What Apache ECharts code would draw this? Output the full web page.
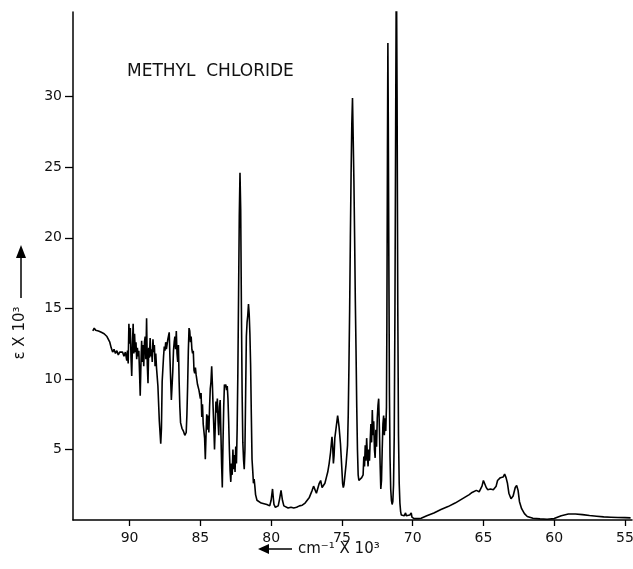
<!DOCTYPE html>
<html>
<head>
<meta charset="utf-8">
<script src="https://cdn.jsdelivr.net/npm/echarts@6.0.0/dist/echarts.min.js"></script>
<style>
  html, body { margin: 0; padding: 0; background: #fff; }
  #chart { width: 633px; height: 569px; }
</style>
</head>
<body>
<div id="chart"></div>
<script>
// tick labels
const xTicks = [90, 85, 80, 75, 70, 65, 60, 55]
const yTicks = [5, 10, 15, 20, 25, 30]
const chartTitle = 'METHYL  CHLORIDE'

// absorption trace, [wavenumber x 10^-3 cm^-1, epsilon x 10^-3]
const spectrum = [
  [92.6, 13.4], [92.5, 13.6], [92.4, 13.45], [92.3, 13.55], [92.2, 13.4], [92.1, 13.5], [92.0, 13.3],
  [91.9, 13.4], [91.8, 13.2], [91.7, 13.1], [91.6, 13.0], [91.5, 12.8], [91.4, 12.6], [91.3, 12.2],
  [91.2, 11.9], [91.1, 12.1], [91.0, 11.8], [90.9, 12.0], [90.8, 11.7], [90.7, 11.9], [90.6, 11.8],
  [90.5, 11.9], [90.4, 11.6], [90.3, 11.9], [90.2, 11.3], [90.15, 12.0], [90.1, 11.1],
  [90.05, 13.9], [90.0, 12.5], [89.95, 13.6], [89.9, 11.5], [89.85, 10.2], [89.8, 12.4], [89.75, 13.9],
  [89.7, 11.8], [89.65, 13.2], [89.6, 11.9], [89.55, 12.6], [89.5, 11.4], [89.45, 12.2], [89.4, 11.6],
  [89.35, 12.0], [89.3, 10.5], [89.25, 8.8], [89.2, 11.0], [89.15, 12.7], [89.1, 11.2], [89.05, 12.4],
  [89.0, 10.9], [88.95, 12.6], [88.9, 13.0], [88.85, 11.4], [88.8, 14.3], [88.75, 11.0], [88.7, 9.7],
  [88.65, 12.2], [88.6, 11.5], [88.55, 12.9], [88.5, 11.6], [88.45, 12.1], [88.4, 11.2], [88.35, 12.8],
  [88.3, 11.9], [88.25, 12.4], [88.2, 10.9], [88.15, 11.8], [88.1, 10.8], [88.0, 9.5], [87.9, 7.0],
  [87.8, 5.4], [87.75, 6.5], [87.7, 9.8], [87.6, 11.6], [87.55, 12.3], [87.5, 12.0], [87.45, 12.6],
  [87.4, 12.1], [87.3, 12.8], [87.2, 13.3], [87.15, 11.5], [87.1, 10.0], [87.05, 8.5], [86.95, 10.5],
  [86.9, 12.0], [86.85, 12.6], [86.8, 13.0], [86.75, 12.1], [86.7, 13.4], [86.65, 11.8], [86.6, 11.2],
  [86.55, 12.4], [86.5, 9.8], [86.45, 8.0], [86.4, 6.9], [86.3, 6.5], [86.2, 6.3], [86.1, 6.0],
  [86.0, 6.2], [85.95, 7.5], [85.9, 9.5], [85.85, 12.0], [85.8, 13.6], [85.75, 13.4], [85.7, 12.6],
  [85.65, 13.0], [85.6, 12.1], [85.55, 11.8], [85.5, 12.0], [85.45, 10.6], [85.4, 10.4], [85.35, 10.8],
  [85.3, 10.3], [85.2, 9.6], [85.1, 9.2], [85.0, 8.6], [84.95, 9.0], [84.9, 7.3], [84.85, 8.2],
  [84.8, 6.8], [84.7, 5.8], [84.65, 4.3], [84.6, 6.0], [84.55, 7.5], [84.5, 6.4], [84.45, 7.4],
  [84.4, 6.2], [84.35, 8.0], [84.3, 9.3], [84.25, 9.8], [84.2, 10.9], [84.15, 9.6], [84.1, 8.0],
  [84.05, 6.6], [84.0, 5.0], [83.95, 6.6], [83.9, 8.4], [83.85, 7.6], [83.8, 8.6], [83.75, 7.0],
  [83.7, 6.0], [83.65, 8.0], [83.6, 8.5], [83.55, 6.2], [83.5, 4.0], [83.45, 2.3], [83.4, 5.5],
  [83.35, 8.0], [83.3, 9.6], [83.25, 9.4], [83.2, 9.6], [83.15, 9.2], [83.1, 9.5], [83.05, 8.6],
  [83.0, 7.0], [82.95, 5.0], [82.9, 3.5], [82.85, 2.7], [82.8, 4.0], [82.75, 3.2], [82.7, 5.0],
  [82.65, 3.6], [82.6, 4.6], [82.55, 3.4], [82.5, 5.2], [82.45, 4.0], [82.4, 6.5], [82.35, 10.5],
  [82.3, 16.0], [82.25, 21.5], [82.2, 24.6], [82.15, 22.0], [82.1, 15.0], [82.05, 9.0], [82.0, 5.5],
  [81.95, 4.3], [81.9, 3.6], [81.85, 5.0], [81.8, 9.0], [81.75, 13.0], [81.7, 14.0], [81.65, 14.5],
  [81.6, 15.3], [81.55, 14.6], [81.5, 13.2], [81.45, 11.0], [81.4, 7.5], [81.35, 4.3], [81.3, 3.5],
  [81.25, 2.6], [81.2, 2.9], [81.15, 2.4], [81.1, 1.8], [81.0, 1.4], [80.9, 1.3], [80.7, 1.2],
  [80.5, 1.15], [80.3, 1.1], [80.1, 1.0], [80.0, 1.4], [79.9, 2.2], [79.85, 1.6], [79.8, 1.1],
  [79.7, 0.9], [79.6, 0.8], [79.5, 1.0], [79.4, 1.5], [79.3, 2.1], [79.2, 1.4], [79.1, 1.0],
  [79.0, 0.9], [78.8, 0.85], [78.6, 0.9], [78.4, 0.85], [78.2, 0.9], [78.0, 1.0], [77.8, 1.05],
  [77.6, 1.2], [77.5, 1.2], [77.3, 1.6], [77.1, 2.1], [77.0, 2.4], [76.9, 2.3], [76.8, 1.9],
  [76.7, 2.0], [76.6, 2.6], [76.5, 2.8], [76.4, 2.3], [76.3, 2.3], [76.2, 2.6], [76.1, 3.0],
  [76.0, 3.4], [75.9, 4.0], [75.8, 4.8], [75.7, 5.9], [75.65, 5.2], [75.6, 4.0], [75.55, 4.6],
  [75.5, 5.8], [75.4, 6.6], [75.3, 7.4], [75.25, 7.0], [75.2, 6.6], [75.1, 5.4], [75.0, 3.6],
  [74.95, 2.6], [74.9, 2.3], [74.85, 2.5], [74.8, 3.0], [74.7, 4.0], [74.6, 5.3], [74.55, 7.5],
  [74.5, 11.0], [74.45, 15.0], [74.4, 20.0], [74.35, 24.5], [74.3, 28.0], [74.25, 29.9], [74.2, 27.0],
  [74.15, 24.0], [74.1, 20.0], [74.05, 15.5], [74.0, 12.0], [73.95, 8.0], [73.9, 5.0], [73.85, 3.2],
  [73.8, 2.8], [73.7, 2.9], [73.6, 3.0], [73.5, 3.2], [73.45, 4.5], [73.4, 3.8], [73.35, 5.3],
  [73.3, 4.2], [73.25, 5.8], [73.2, 4.6], [73.15, 3.8], [73.1, 5.0], [73.05, 4.2], [73.0, 5.6],
  [72.95, 6.8], [72.9, 5.5], [72.85, 7.8], [72.8, 6.0], [72.75, 7.0], [72.7, 5.0], [72.65, 4.4],
  [72.6, 6.4], [72.55, 5.2], [72.5, 7.2], [72.45, 8.1], [72.4, 8.6], [72.35, 6.5], [72.3, 4.0],
  [72.25, 2.2], [72.2, 2.8], [72.15, 5.0], [72.1, 6.8], [72.05, 7.4], [72.0, 6.0], [71.95, 7.2],
  [71.9, 6.3], [71.85, 8.0], [71.82, 14.0], [71.78, 26.0], [71.75, 33.8], [71.72, 28.0], [71.68, 18.0],
  [71.64, 9.0], [71.6, 4.5], [71.55, 2.2], [71.5, 1.4], [71.45, 1.1], [71.4, 1.3], [71.35, 2.5],
  [71.3, 6.0], [71.25, 15.0], [71.2, 28.0], [71.15, 40.0], [71.1, 30.0], [71.05, 15.0], [71.0, 6.0],
  [70.95, 2.6], [70.9, 1.2], [70.85, 0.6], [70.8, 0.35], [70.7, 0.4], [70.6, 0.3], [70.5, 0.5],
  [70.45, 0.3], [70.35, 0.2], [70.2, 0.35], [70.1, 0.5], [70.05, 0.2], [69.9, 0.1], [69.6, 0.1],
  [69.4, 0.12], [69.0, 0.3], [68.5, 0.5], [68.0, 0.75], [67.5, 0.95], [67.0, 1.2], [66.5, 1.5],
  [66.0, 1.8], [65.8, 1.95], [65.5, 2.1], [65.3, 2.0], [65.2, 2.05], [65.1, 2.4], [65.0, 2.8],
  [64.9, 2.7], [64.8, 2.3], [64.7, 2.15], [64.5, 2.2], [64.3, 2.15], [64.1, 2.4], [64.0, 2.8],
  [63.8, 3.0], [63.6, 3.05], [63.5, 3.25], [63.4, 3.0], [63.3, 2.6], [63.2, 1.9], [63.05, 1.5],
  [62.9, 1.7], [62.75, 2.3], [62.65, 2.45], [62.55, 2.1], [62.45, 1.3], [62.3, 0.8], [62.1, 0.45],
  [61.9, 0.25], [61.5, 0.12], [61.0, 0.08], [60.5, 0.05], [60.0, 0.1], [59.5, 0.3], [59.0, 0.42],
  [58.5, 0.42], [58.0, 0.38], [57.5, 0.32], [57.0, 0.27], [56.5, 0.22], [56.0, 0.2], [55.5, 0.18],
  [55.0, 0.17], [54.6, 0.15]
]

const font = 'DejaVu Sans'
const chart = echarts.init(document.getElementById('chart'), null, { width: 633, height: 569 })

chart.setOption({
  animation: false,
  backgroundColor: '#fff',
  grid: { left: 73, right: 1, top: 12, bottom: 49, containLabel: false, outerBoundsMode: 'none' },
  xAxis: {
    type: 'value',
    inverse: true,
    min: 54.5,
    max: 94,
    axisLine: { show: true, lineStyle: { color: '#000', width: 1.5 } },
    axisTick: { show: true, customValues: xTicks, length: 6, lineStyle: { color: '#000', width: 1.3 } },
    axisLabel: { customValues: xTicks, margin: 11, color: '#111', fontSize: 14, fontFamily: font },
    splitLine: { show: false }
  },
  yAxis: {
    type: 'value',
    min: 0,
    max: 36,
    axisLine: { show: true, lineStyle: { color: '#000', width: 1.5 } },
    axisTick: { show: true, customValues: yTicks, length: 8, lineStyle: { color: '#000', width: 1.3 } },
    axisLabel: { customValues: yTicks, margin: 11, color: '#111', fontSize: 14, fontFamily: font },
    splitLine: { show: false }
  },
  graphic: [
    {
      type: 'text', left: 127, top: 63,
      style: { text: chartTitle, font: '17px "DejaVu Sans"', fill: '#111' }
    },
    // x axis name with left arrow
    {
      type: 'polygon', shape: { points: [[258, 549], [269, 544], [269, 554]] },
      style: { fill: '#000' }
    },
    {
      type: 'line', shape: { x1: 268, y1: 549, x2: 292, y2: 549 },
      style: { stroke: '#000', lineWidth: 1.5 }
    },
    {
      type: 'text', x: 298, y: 549,
      style: { text: 'cm⁻¹ X 10³', font: '15px "DejaVu Sans"', fill: '#111', verticalAlign: 'middle' }
    },
    // y axis name with up arrow
    {
      type: 'text', x: 20, y: 333, rotation: Math.PI / 2,
      style: { text: 'ε X 10³', font: '15px "DejaVu Sans"', fill: '#111', align: 'center', verticalAlign: 'middle' }
    },
    {
      type: 'line', shape: { x1: 21, y1: 298, x2: 21, y2: 256 },
      style: { stroke: '#000', lineWidth: 1.5 }
    },
    {
      type: 'polygon', shape: { points: [[21, 245], [16, 258], [26, 258]] },
      style: { fill: '#000' }
    }
  ],
  series: [{
    type: 'line',
    data: spectrum,
    showSymbol: false,
    clip: true,
    lineStyle: { color: '#000', width: 1.6 }
  }]
})
</script>
</body>
</html>
